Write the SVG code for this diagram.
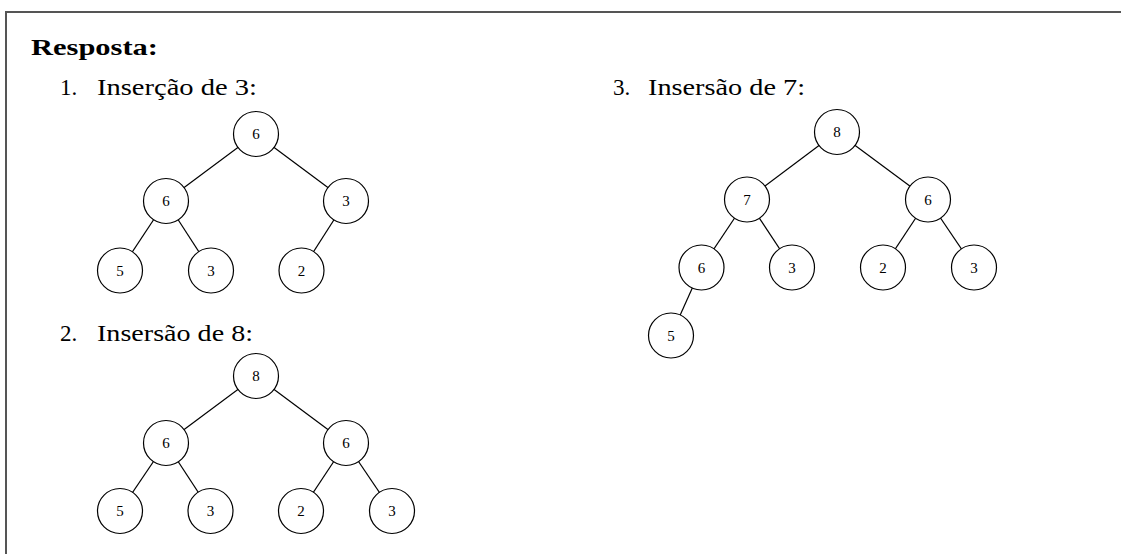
<svg xmlns="http://www.w3.org/2000/svg" width="1121" height="554" viewBox="0 0 1121 554">
<style>
.frame{stroke:#555;stroke-width:2;fill:none}
.edge{stroke:#000;stroke-width:1.2}
.node circle{fill:#fff;stroke:#000;stroke-width:1.2}
.node text{font-family:"Liberation Serif",serif;font-size:15px;text-anchor:middle;fill:#000}
.h{font-family:"Liberation Serif",serif;font-size:24px;font-weight:bold;fill:#000}
.t{font-family:"Liberation Serif",serif;font-size:23px;fill:#000}
</style>
<rect width="1121" height="554" fill="#fff"/>
<path class="frame" d="M6,554 V12 H1121"/>
<text class="h" x="31" y="55" textLength="127" lengthAdjust="spacingAndGlyphs">Resposta:</text>
<text class="t" x="60" y="95">1.</text>
<text class="t" x="97" y="95" textLength="160" lengthAdjust="spacingAndGlyphs">Inserção de 3:</text>
<text class="t" x="60" y="341">2.</text>
<text class="t" x="97" y="341" textLength="156" lengthAdjust="spacingAndGlyphs">Insersão de 8:</text>
<text class="t" x="613" y="95">3.</text>
<text class="t" x="648" y="95" textLength="157" lengthAdjust="spacingAndGlyphs">Insersão de 7:</text>
<g id="connectors">
<line class="edge" x1="256" y1="134" x2="166" y2="201"/>
<line class="edge" x1="256" y1="134" x2="346" y2="201"/>
<line class="edge" x1="166" y1="201" x2="120" y2="270.5"/>
<line class="edge" x1="166" y1="201" x2="211" y2="270.5"/>
<line class="edge" x1="346" y1="201" x2="301.5" y2="270.5"/>
<line class="edge" x1="256" y1="376" x2="166" y2="443"/>
<line class="edge" x1="256" y1="376" x2="346" y2="443"/>
<line class="edge" x1="166" y1="443" x2="120" y2="511"/>
<line class="edge" x1="166" y1="443" x2="210.5" y2="511"/>
<line class="edge" x1="346" y1="443" x2="301" y2="511"/>
<line class="edge" x1="346" y1="443" x2="392" y2="511"/>
<line class="edge" x1="837" y1="132" x2="747" y2="199.5"/>
<line class="edge" x1="837" y1="132" x2="928" y2="199.5"/>
<line class="edge" x1="747" y1="199.5" x2="701.5" y2="267.5"/>
<line class="edge" x1="747" y1="199.5" x2="792" y2="267.5"/>
<line class="edge" x1="928" y1="199.5" x2="883" y2="267.5"/>
<line class="edge" x1="928" y1="199.5" x2="974" y2="267.5"/>
<line class="edge" x1="701.5" y1="267.5" x2="671" y2="335.5"/>
</g>
<g id="t1n0" class="node"><circle cx="256" cy="134" r="22.5"/><text x="256" y="139">6</text></g>
<g id="t1n1" class="node"><circle cx="166" cy="201" r="22.5"/><text x="166" y="206">6</text></g>
<g id="t1n2" class="node"><circle cx="346" cy="201" r="22.5"/><text x="346" y="206">3</text></g>
<g id="t1n3" class="node"><circle cx="120" cy="270.5" r="22.5"/><text x="120" y="275.5">5</text></g>
<g id="t1n4" class="node"><circle cx="211" cy="270.5" r="22.5"/><text x="211" y="275.5">3</text></g>
<g id="t1n5" class="node"><circle cx="301.5" cy="270.5" r="22.5"/><text x="301.5" y="275.5">2</text></g>
<g id="t2n0" class="node"><circle cx="256" cy="376" r="22.5"/><text x="256" y="381">8</text></g>
<g id="t2n1" class="node"><circle cx="166" cy="443" r="22.5"/><text x="166" y="448">6</text></g>
<g id="t2n2" class="node"><circle cx="346" cy="443" r="22.5"/><text x="346" y="448">6</text></g>
<g id="t2n3" class="node"><circle cx="120" cy="511" r="22.5"/><text x="120" y="516">5</text></g>
<g id="t2n4" class="node"><circle cx="210.5" cy="511" r="22.5"/><text x="210.5" y="516">3</text></g>
<g id="t2n5" class="node"><circle cx="301" cy="511" r="22.5"/><text x="301" y="516">2</text></g>
<g id="t2n6" class="node"><circle cx="392" cy="511" r="22.5"/><text x="392" y="516">3</text></g>
<g id="t3n0" class="node"><circle cx="837" cy="132" r="22.5"/><text x="837" y="137">8</text></g>
<g id="t3n1" class="node"><circle cx="747" cy="199.5" r="22.5"/><text x="747" y="204.5">7</text></g>
<g id="t3n2" class="node"><circle cx="928" cy="199.5" r="22.5"/><text x="928" y="204.5">6</text></g>
<g id="t3n3" class="node"><circle cx="701.5" cy="267.5" r="22.5"/><text x="701.5" y="272.5">6</text></g>
<g id="t3n4" class="node"><circle cx="792" cy="267.5" r="22.5"/><text x="792" y="272.5">3</text></g>
<g id="t3n5" class="node"><circle cx="883" cy="267.5" r="22.5"/><text x="883" y="272.5">2</text></g>
<g id="t3n6" class="node"><circle cx="974" cy="267.5" r="22.5"/><text x="974" y="272.5">3</text></g>
<g id="t3n7" class="node"><circle cx="671" cy="335.5" r="22.5"/><text x="671" y="340.5">5</text></g>
</svg>
